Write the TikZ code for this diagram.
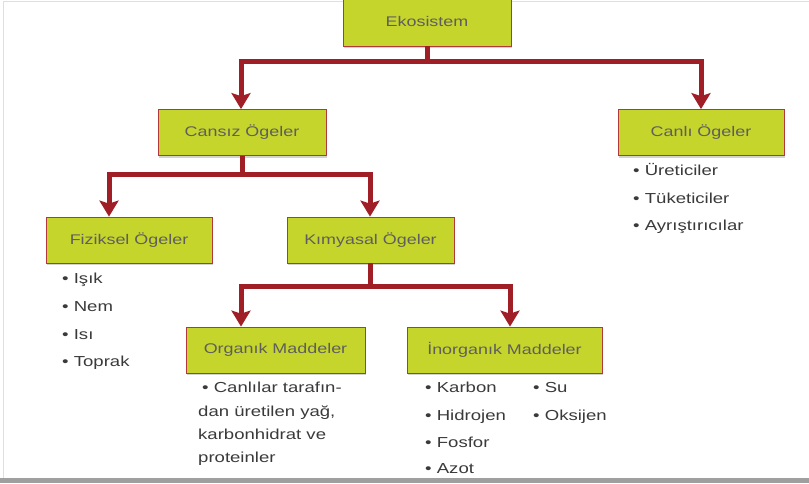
\documentclass[tikz,border=0pt]{standalone}
\usepackage{fontspec}
\setmainfont{Liberation Sans}[FakeStretch=1.28]
\usetikzlibrary{arrows.meta,shadows}
\definecolor{limefill}{HTML}{C6D52B}
\definecolor{boxline}{HTML}{B0393C}
\definecolor{arrowred}{HTML}{A01E26}
\definecolor{labelgray}{HTML}{5E5E5E}
\definecolor{bulletgray}{HTML}{3A3A3A}
\begin{document}
\begin{tikzpicture}[x=1pt,y=-1pt,
  box/.style={draw=boxline, line width=0.8pt, fill=limefill, minimum height=46pt, inner sep=0pt,
    text=labelgray, font=\fontsize{14}{16}\selectfont,
    drop shadow={opacity=0.35, shadow xshift=1.2pt, shadow yshift=-2pt}},
  conn/.style={draw=arrowred, line width=5pt, line join=miter,
    -{Stealth[length=16pt,width=19pt,inset=3pt]}},
  item/.style={anchor=base west, inner sep=0pt, text=bulletgray, font=\fontsize{14.5}{17}\selectfont}]
\useasboundingbox (0,0) rectangle (809,483);
\fill[white] (0,0) rectangle (809,483);
% page frame
\draw[gray!25, line width=1pt] (3,1.5) -- (809,1.5);
\draw[gray!25, line width=1pt] (3,1.5) -- (3,478);
\fill[gray!75] (0,478) rectangle (809,483);

% boxes
\node[box, minimum width=168pt, minimum height=50pt] (eko) at (427,21) {Ekosistem};
\node[box, minimum width=168pt] (cansiz) at (242,132.5) {Cansız Ögeler};
\node[box, minimum width=166pt] (canli) at (701,132.5) {Canlı Ögeler};
\node[box, minimum width=166pt] (fiz) at (129,240) {Fiziksel Ögeler};
\node[box, minimum width=167pt] (kim) at (370.5,240) {Kımyasal Ögeler};
\node[box, minimum width=179pt] (org) at (275.5,350) {Organık Maddeler};
\node[box, minimum width=195pt] (inorg) at (504.5,350) {İnorganık Maddeler};

% junction coordinates
\coordinate (a1) at (241,61);
\coordinate (a2) at (701,61);
\coordinate (b1) at (109,174);
\coordinate (b2) at (370,174);
\coordinate (c1) at (241,286);
\coordinate (c2) at (510,286);

% connectors
\draw[conn] (eko.south) |- (a1) -- (a1 |- cansiz.north);
\draw[conn] (eko.south) |- (a2) -- (a2 |- canli.north);
\draw[conn] (cansiz.south) |- (b1) -- (b1 |- fiz.north);
\draw[conn] (cansiz.south) |- (b2) -- (b2 |- kim.north);
\draw[conn] (kim.south) |- (c1) -- (c1 |- org.north);
\draw[conn] (kim.south) |- (c2) -- (c2 |- inorg.north);

% lists
\node[item] (l1) at (633,175) {• Üreticiler};
\node[item] (l2) at (633,203) {• Tüketiciler};
\node[item] (l3) at (633,230) {• Ayrıştırıcılar};

\node[item] (f1) at (62,283) {• Işık};
\node[item] (f2) at (62,311) {• Nem};
\node[item] (f3) at (62,339) {• Isı};
\node[item] (f4) at (62,366) {• Toprak};

\node[item] (o1) at (202,392) {• Canlılar tarafın-};
\node[item] (o2) at (198,416) {dan üretilen yağ,};
\node[item] (o3) at (198,439) {karbonhidrat ve};
\node[item] (o4) at (198,462) {proteinler};

\node[item] (i1) at (425,392) {• Karbon};
\node[item] (i2) at (425,420) {• Hidrojen};
\node[item] (i3) at (425,447) {• Fosfor};
\node[item] (i4) at (425,473) {• Azot};
\node[item] (i5) at (533,392) {• Su};
\node[item] (i6) at (533,420) {• Oksijen};
\end{tikzpicture}
\end{document}
